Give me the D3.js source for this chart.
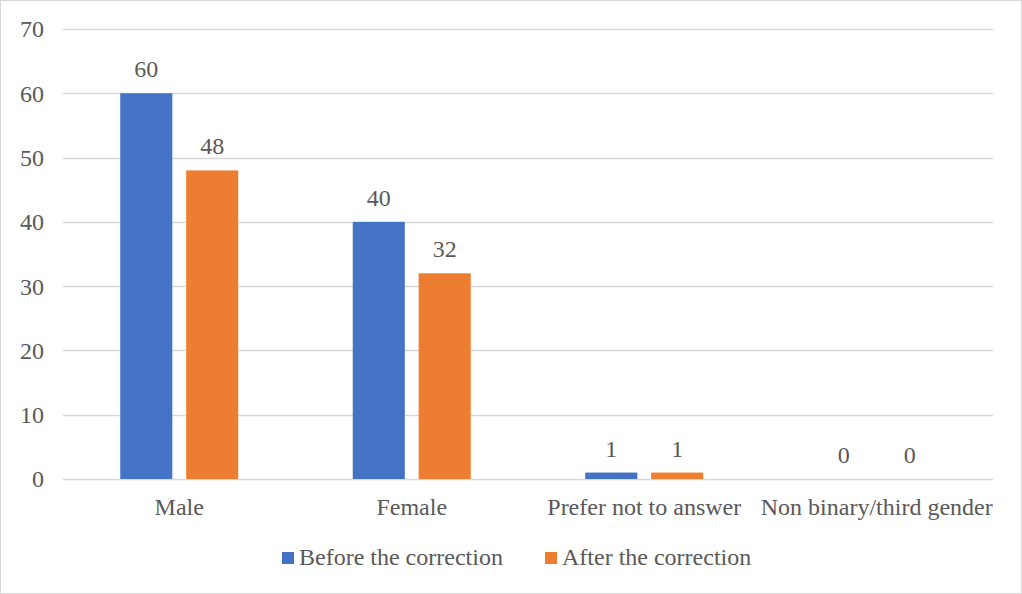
<!DOCTYPE html>
<html>
<head>
<meta charset="utf-8">
<script src="https://cdn.jsdelivr.net/npm/d3@7"></script>
<style>
  body { margin: 0; background: #fff; }
  svg text { font-family: "Liberation Serif", "Times New Roman", serif; fill: #595959; }
</style>
</head>
<body>
<svg id="chart"></svg>
<script>
const categories = ["Male", "Female", "Prefer not to answer", "Non binary/third gender"];
const seriesNames = ["Before the correction", "After the correction"];
const beforeValues = [60, 40, 1, 0];
const afterValues = [48, 32, 1, 0];
const yTicks = [0, 10, 20, 30, 40, 50, 60, 70];
const colors = ["#4472c4", "#ed7d31"];

const width = 1022;
const height = 594;
const margin = {left: 63, right: 29, top: 29, bottom: 115};
const fontSize = 24;

var svg = d3.select("#chart")
    .attr("width", width)
    .attr("height", height);

svg.append("rect")
    .attr("x", 0.5).attr("y", 0.5)
    .attr("width", width - 1).attr("height", height - 1)
    .attr("fill", "#fff")
    .attr("stroke", "#d9d9d9");

var y = d3.scaleLinear()
    .domain([0, 70])
    .range([height - margin.bottom, margin.top]);

var x = d3.scaleBand()
    .domain(categories)
    .range([margin.left, width - margin.right]);

var x1 = d3.scaleBand()
    .domain(seriesNames)
    .range([0, 118])
    .paddingInner(0.21);

// gridlines
svg.append("g")
    .selectAll("line")
    .data(yTicks)
    .enter().append("line")
    .attr("x1", margin.left)
    .attr("x2", width - margin.right)
    .attr("y1", d => Math.round(y(d)) + 0.5)
    .attr("y2", d => Math.round(y(d)) + 0.5)
    .attr("stroke", "#d9d9d9")
    .attr("stroke-width", 1.3);

// y tick labels
svg.append("g")
    .selectAll("text")
    .data(yTicks)
    .enter().append("text")
    .attr("x", 44)
    .attr("y", d => y(d))
    .attr("dy", "0.35em")
    .attr("text-anchor", "end")
    .attr("font-size", fontSize)
    .text(d => d);

var rows = categories.map((c, i) => ({cat: c, vals: [beforeValues[i], afterValues[i]]}));

var groups = svg.append("g")
    .selectAll("g")
    .data(rows)
    .enter().append("g")
    .attr("transform", d => "translate(" + (x(d.cat) + x.bandwidth() / 2 - 59) + ",0)");

groups.selectAll("rect")
    .data(d => d.vals.map((v, j) => ({name: seriesNames[j], v: v, j: j})))
    .enter().append("rect")
    .attr("x", d => x1(d.name))
    .attr("width", x1.bandwidth())
    .attr("y", d => y(d.v))
    .attr("height", d => y(0) - y(d.v))
    .attr("fill", d => colors[d.j]);

groups.selectAll("text")
    .data(d => d.vals.map((v, j) => ({name: seriesNames[j], v: v, j: j})))
    .enter().append("text")
    .attr("x", d => x1(d.name) + x1.bandwidth() / 2)
    .attr("y", d => y(d.v) - 16)
    .attr("text-anchor", "middle")
    .attr("font-size", fontSize)
    .text(d => d.v);

// category labels
svg.append("g")
    .selectAll("text")
    .data(categories)
    .enter().append("text")
    .attr("x", d => x(d) + x.bandwidth() / 2)
    .attr("y", y(0) + 36)
    .attr("text-anchor", "middle")
    .attr("font-size", fontSize)
    .text(d => d);

// legend
var legendX = [282, 545];
var legend = svg.append("g")
    .selectAll("g")
    .data(seriesNames)
    .enter().append("g")
    .attr("transform", (d, i) => "translate(" + legendX[i] + ",552)");

legend.append("rect")
    .attr("width", 12).attr("height", 12)
    .attr("fill", (d, i) => colors[i]);

legend.append("text")
    .attr("x", 17)
    .attr("y", 13)
    .attr("font-size", fontSize)
    .text(d => d);
</script>
</body>
</html>
